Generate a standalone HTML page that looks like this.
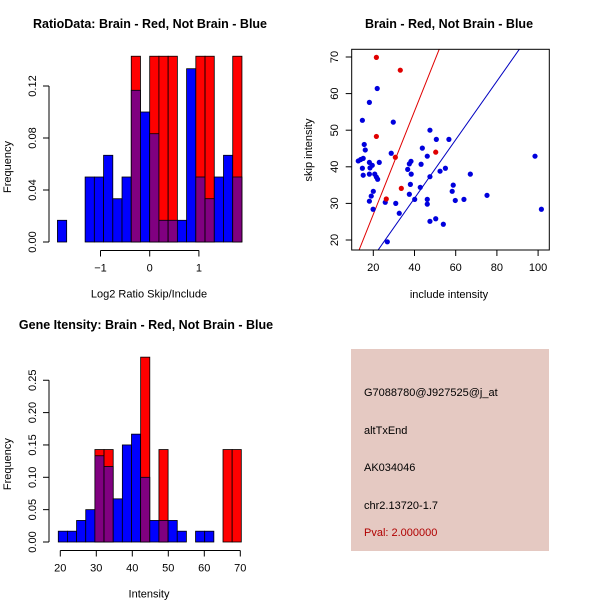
<!DOCTYPE html>
<html><head><meta charset="utf-8"><style>
body{margin:0;background:#fff}
svg{display:block;font-family:"Liberation Sans",Arial,sans-serif}
</style></head><body>
<svg id="s" width="600" height="600" viewBox="0 0 600 600">
<rect x="351" y="349" width="198" height="202" fill="#e5c9c2"/>
<g font-size="11">
<text x="364" y="396">G7088780@J927525@j_at</text>
<text x="364" y="434">altTxEnd</text>
<text x="364" y="471">AK034046</text>
<text x="364" y="509">chr2.13720-1.7</text>
<text x="364" y="536" fill="#b00000">Pval: 2.000000</text>
</g>
</svg>
<script>
// ---- chart 1: ratio histogram ----
const ratioBinStart = -1.875;
const ratioBinWidth = 0.1875;
const ratioBlue = [0.0167,0,0,0.05,0.05,0.0667,0.0333,0.05,0.1167,0.1,0.0833,0.0167,0.0167,0.0167,0.1333,0.05,0.0333,0.05,0.0667,0.05];
const ratioRed  = [0,0,0,0,0,0,0,0,0.1429,0,0.1429,0.1429,0.1429,0,0,0.1429,0.1429,0,0,0.1429];
const ratioXTicks = [-1,0,1];
const ratioYTicks = [0,0.04,0.08,0.12];
const ratioYTickLabels = ["0.00","0.04","0.08","0.12"];
// ---- chart 2: gene intensity histogram ----
const intBinStart = 19.44;
const intBinWidth = 2.542;
const intBlue = [0.0167,0.0167,0.0333,0.05,0.1333,0.1167,0.0667,0.15,0.1667,0.1,0.0333,0.0333,0.0333,0.0167,0,0.0167,0.0167,0,0,0];
const intRed  = [0,0,0,0,0.1429,0.1429,0,0,0,0.2857,0,0.1429,0,0,0,0,0,0,0.1429,0.1429];
const intXTicks = [20,30,40,50,60,70];
const intYTicks = [0,0.05,0.1,0.15,0.2,0.25];
const intYTickLabels = ["0.00","0.05","0.10","0.15","0.20","0.25"];
// ---- chart 3: scatter ----
const blueX = [21.9,18.1,14.7,29.7,47.5,50.6,56.7,15.6,16.1,28.7,43.8,46.2,12.7,13.9,15.1,18.1,22.9,38.3,37.5,43.2,19.5,14.7,18.4,98.5,36.7,55.0,52.4,15.1,18.1,20.7,21.5,22.1,38.4,47.5,67.1,38.0,42.8,58.8,20.0,58.3,19.0,37.5,75.2,40.1,46.2,59.8,64.0,18.1,25.8,30.9,46.2,19.9,32.6,101.6,50.3,47.5,54.0,26.8];
const blueY = [61.4,57.6,52.7,52.2,50.0,47.5,47.5,46.1,44.6,43.7,45.1,42.9,41.6,42.0,42.3,41.2,41.2,41.5,40.8,40.7,40.4,39.6,39.7,42.9,39.3,39.6,38.8,37.7,38.0,38.0,37.2,36.6,38.0,37.3,38.0,35.2,34.4,35.0,33.3,33.3,32.0,32.5,32.2,31.1,31.1,30.8,31.1,30.6,30.3,30.0,29.8,28.4,27.3,28.4,25.8,25.1,24.3,19.5];
const redX = [21.5,33.1,21.5,50.3,30.7,33.6,26.3];
const redY = [69.9,66.4,48.3,44.0,42.6,34.1,31.2];
const redFit = [-1.2,1.41];   // intercept, slope
const blueFit = [-0.6,0.80];
const scXTicks = [20,40,60,80,100];
const scYTicks = [20,30,40,50,60,70];

const NS="http://www.w3.org/2000/svg";
const svg=document.getElementById('s');
function mk(tag,attrs,parent){const e=document.createElementNS(NS,tag);for(const k in attrs)e.setAttribute(k,attrs[k]);(parent||svg).appendChild(e);return e;}
function txt(x,y,s,attrs){const e=mk('text',Object.assign({x:x,y:y},attrs||{}));e.textContent=s;return e;}

function histogram(name,o){
  const g=mk('g',{});
  
  
  const xs=v=>o.x0px+(v-o.x0)*o.xScale, ys=v=>o.y0px-v*o.yScale;
  for(let i=0;i<o.blue.length;i++){
    const l=xs(o.binStart+i*o.binWidth), r=xs(o.binStart+(i+1)*o.binWidth);
    const b=o.blue[i], rd=o.red[i];
    const hi=Math.max(b,rd), lo=Math.min(b,rd);
    if(hi<=0) continue;
    const top=mk('rect',{x:l,y:ys(hi),width:r-l,height:ys(0)-ys(hi),fill:rd>b?'#ff0000':'#0000ff',stroke:'#000','stroke-width':0.8},g);
    
    
    if(lo>0){
      const p=mk('rect',{x:l,y:ys(lo),width:r-l,height:ys(0)-ys(lo),fill:'#800080',stroke:'#000','stroke-width':0.8},g);
      
      
    }
  }
  const ya=mk('g',{},g);
  
  
  mk('line',{x1:49,x2:49,y1:ys(o.yTicks[0]),y2:ys(o.yTicks[o.yTicks.length-1]),stroke:'#000'},ya);
  o.yTicks.forEach((t,i)=>{
    mk('line',{x1:43,x2:49,y1:ys(t),y2:ys(t),stroke:'#000'},ya);
    const e=txt(0,0,o.yLabels[i],{'font-size':11,'text-anchor':'middle',transform:`translate(36,${ys(t)}) rotate(-90)`});
    ya.appendChild(e);
  });
  const xa=mk('g',{},g);
  
  
  mk('line',{x1:xs(o.xTicks[0]),x2:xs(o.xTicks[o.xTicks.length-1]),y1:o.axisY,y2:o.axisY,stroke:'#000'},xa);
  o.xTicks.forEach(t=>{
    mk('line',{x1:xs(t),x2:xs(t),y1:o.axisY,y2:o.axisY+6,stroke:'#000'},xa);
    xa.appendChild(txt(xs(t),o.axisY+21,String(t).replace('-','\u2212'),{'font-size':11,'text-anchor':'middle'}));
  });
  const t=txt(o.titleX,o.titleY,o.title,{'font-size':12.5,'font-weight':'bold','text-anchor':'middle'});
  
  
  const xl=txt(149,o.axisY+47,o.xLabel,{'font-size':11,'text-anchor':'middle'});
  
  
  const yl=txt(0,0,'Frequency',{'font-size':11,'text-anchor':'middle',transform:`translate(11,${(ys(0)+ys(o.yTicks[o.yTicks.length-1]))/2+3}) rotate(-90)`});
  
  
}

histogram('ratio-histogram',{blue:ratioBlue,red:ratioRed,binStart:ratioBinStart,binWidth:ratioBinWidth,
  x0:0,x0px:149.7,xScale:49.2,y0px:242,yScale:1300,axisY:250.5,xTicks:ratioXTicks,yTicks:ratioYTicks,yLabels:ratioYTickLabels,
  title:'RatioData: Brain - Red, Not Brain - Blue',titleX:150,titleY:28,xLabel:'Log2 Ratio Skip/Include'});
histogram('intensity-histogram',{blue:intBlue,red:intRed,binStart:intBinStart,binWidth:intBinWidth,
  x0:20,x0px:60.3,xScale:3.6,y0px:542,yScale:647,axisY:550.5,xTicks:intXTicks,yTicks:intYTicks,yLabels:intYTickLabels,
  title:'Gene Itensity: Brain - Red, Not Brain - Blue',titleX:146,titleY:329,xLabel:'Intensity'});

(function(){
  const g=mk('g',{});
  
  
  const L=351.7,R=549.3,T=49.3,B=250;
  const xs=v=>373.3+(v-20)*2.06, ys=v=>240-(v-20)*3.66;
  const cp=mk('clipPath',{id:'cp'},g);
  mk('rect',{x:L,y:T,width:R-L,height:B-T},cp);
  const lines=mk('g',{'clip-path':'url(#cp)'},g);
  [[redFit,'#e00000','red-fit-line'],[blueFit,'#0000c0','blue-fit-line']].forEach(([f,c,n])=>{
    const x1=0,x2=120;
    const l=mk('line',{x1:xs(x1),y1:ys(f[0]+f[1]*x1),x2:xs(x2),y2:ys(f[0]+f[1]*x2),stroke:c,'stroke-width':1},lines);
    
    
  });
  blueX.forEach((x,i)=>{
    const c=mk('circle',{cx:xs(x),cy:ys(blueY[i]),r:2.6,fill:'#0000dd'},g);
    
    
  });
  redX.forEach((x,i)=>{
    const c=mk('circle',{cx:xs(x),cy:ys(redY[i]),r:2.6,fill:'#e00000'},g);
    
    
  });
  const box=mk('rect',{x:L,y:T,width:R-L,height:B-T,fill:'none',stroke:'#000'},g);
  
  
  scXTicks.forEach(t=>{
    mk('line',{x1:xs(t),x2:xs(t),y1:B,y2:B+6,stroke:'#000'},g);
    txt(xs(t),B+21,String(t),{'font-size':11,'text-anchor':'middle'});
  });
  scYTicks.forEach(t=>{
    mk('line',{x1:L-6,x2:L,y1:ys(t),y2:ys(t),stroke:'#000'},g);
    txt(0,0,String(t),{'font-size':11,'text-anchor':'middle',transform:`translate(338,${ys(t)}) rotate(-90)`});
  });
  const t=txt(449,28,'Brain - Red, Not Brain - Blue',{'font-size':12.5,'font-weight':'bold','text-anchor':'middle'});
  
  
  const xl=txt(449,298,'include intensity',{'font-size':11,'text-anchor':'middle'});
  
  
  const yl=txt(0,0,'skip intensity',{'font-size':11,'text-anchor':'middle',transform:'translate(312,150) rotate(-90)'});
  
  
})();
</script>
</body></html>
